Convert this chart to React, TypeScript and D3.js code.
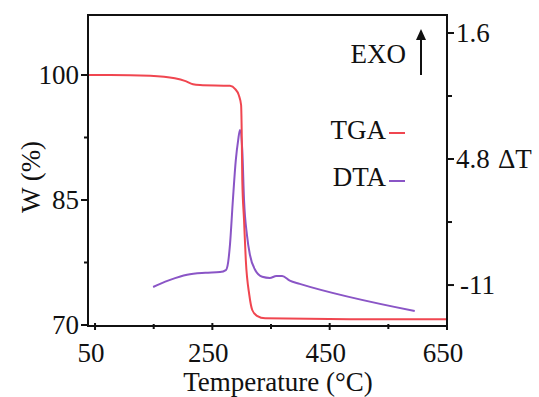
import * as d3 from "d3";

const W = 539;
const H = 397;

// TGA curve: temperature (°C) vs weight (%)
const tgaTemp = [38, 76, 144, 186, 203, 217, 229, 280, 289, 295, 299, 300, 301, 304, 307, 313, 318, 326, 340, 485, 650];
const tgaWeight = [100, 100, 99.9, 99.6, 99.3, 98.9, 98.8, 98.7, 98.3, 97.6, 96.4, 93.4, 87.4, 82.6, 77.8, 73.6, 71.8, 71.1, 70.8, 70.7, 70.7];

// DTA curve: temperature (°C) vs ΔT
const dtaTemp = [149, 161, 178, 207, 238, 263, 273, 277, 280, 285, 290, 294, 297, 301, 304, 309, 314, 323, 335, 348, 359, 369, 382, 399, 595];
const dtaDelta = [-8.05, -7.97, -7.87, -7.74, -7.69, -7.67, -7.62, -7.41, -6.98, -5.84, -4.82, -4.32, -4.06, -4.57, -5.84, -6.73, -7.23, -7.62, -7.79, -7.82, -7.77, -7.77, -7.89, -7.97, -8.66];

const xTicks = [50, 250, 450, 650];
const xMinorTicks = [150, 350, 550];
const wTicks = [100, 85, 70];
const wMinorTicks = [92.5, 77.5];
const dtTicks = [-1.6, -4.8, -8.0];
const dtTickLabels = ["1.6", "4.8", "-11"];
const dtMinorTicks = [-3.2, -6.4];

const FONT = "'Liberation Serif', 'Times New Roman', serif";
const RED = "#f04650";
const PURPLE = "#8a55c6";
const INK = "#111";

export default function App() {
  const left = 88, right = 447, top = 15, bottom = 326;
  const x = d3.scaleLinear().domain([38, 650]).range([left, right]);
  const yW = d3.scaleLinear().domain([70, 107.2]).range([325, top]);
  const yT = d3.scaleLinear().domain([-9.04, -1.143]).range([bottom, top]);

  const tgaLine = d3
    .line<number>()
    .x((_, i) => x(tgaTemp[i]))
    .y((d) => yW(d))
    .curve(d3.curveMonotoneX);
  const dtaLine = d3
    .line<number>()
    .x((_, i) => x(dtaTemp[i]))
    .y((d) => yT(d))
    .curve(d3.curveMonotoneX);

  const fs = 27;

  return (
    <svg
      width={W}
      height={H}
      style={{ position: "absolute", left: 0, top: 0, background: "#fff" }}
      fontFamily={FONT}
    >
      <rect x={0} y={0} width={W} height={H} fill="#fff" />

      {/* curves */}
      <path d={dtaLine(dtaDelta) || ""} fill="none" stroke={PURPLE} strokeWidth={2} />
      <path d={tgaLine(tgaWeight) || ""} fill="none" stroke={RED} strokeWidth={2} />

      {/* frame */}
      <rect x={left} y={top} width={right - left} height={bottom - top} fill="none" stroke={INK} strokeWidth={2} />

      {/* x axis ticks */}
      {xTicks.map((t) => (
        <g key={"x" + t}>
          <line x1={x(t)} x2={x(t)} y1={bottom - 3} y2={bottom + 4} stroke={INK} strokeWidth={2} />
          <text x={x(t) - 4} y={bottom + 36} fontSize={fs} textAnchor="middle" fill={INK}>
            {t}
          </text>
        </g>
      ))}
      {xMinorTicks.map((t) => (
        <line key={"xm" + t} x1={x(t)} x2={x(t)} y1={bottom - 2} y2={bottom + 3} stroke={INK} strokeWidth={2} />
      ))}

      {/* left axis */}
      {wTicks.map((t) => (
        <g key={"w" + t}>
          <line x1={left - 7} x2={left} y1={yW(t)} y2={yW(t)} stroke={INK} strokeWidth={2} />
          <text x={left - 9} y={yW(t)} dy="0.35em" fontSize={fs} textAnchor="end" fill={INK}>
            {t}
          </text>
        </g>
      ))}
      {wMinorTicks.map((t) => (
        <line key={"wm" + t} x1={left - 4} x2={left} y1={yW(t)} y2={yW(t)} stroke={INK} strokeWidth={2} />
      ))}

      {/* right axis */}
      {dtTicks.map((t, i) => (
        <g key={"t" + t}>
          <line x1={right} x2={right + 7} y1={yT(t)} y2={yT(t)} stroke={INK} strokeWidth={2} />
          <text x={i === 2 ? right + 13 : right + 9} y={yT(t)} dy="0.35em" fontSize={fs} fill={INK}>
            {dtTickLabels[i]}
          </text>
        </g>
      ))}
      {dtMinorTicks.map((t) => (
        <line key={"tm" + t} x1={right} x2={right + 5} y1={yT(t)} y2={yT(t)} stroke={INK} strokeWidth={2} />
      ))}
      <text x={498} y={yT(-4.8)} dy="0.35em" fontSize={fs} fill={INK}>
        ΔT
      </text>

      {/* axis titles */}
      <text x={278} y={391} fontSize={fs} textAnchor="middle" fill={INK}>
        Temperature (°C)
      </text>
      <text transform="translate(40,177) rotate(-90)" fontSize={fs} textAnchor="middle" fill={INK}>
        W (%)
      </text>

      {/* EXO arrow */}
      <text x={406} y={63} fontSize={fs} textAnchor="end" fill={INK}>
        EXO
      </text>
      <line x1={421} x2={421} y1={75} y2={38} stroke={INK} strokeWidth={2} />
      <path d="M416,40 L421,29 L426,40 Z" fill={INK} />

      {/* legend */}
      <text x={386} y={139} fontSize={fs} textAnchor="end" fill={INK}>
        TGA
      </text>
      <line x1={389} x2={405} y1={133} y2={133} stroke={RED} strokeWidth={2} />
      <text x={386} y={186} fontSize={fs} textAnchor="end" fill={INK}>
        DTA
      </text>
      <line x1={389} x2={405} y1={181} y2={181} stroke={PURPLE} strokeWidth={2} />
    </svg>
  );
}
